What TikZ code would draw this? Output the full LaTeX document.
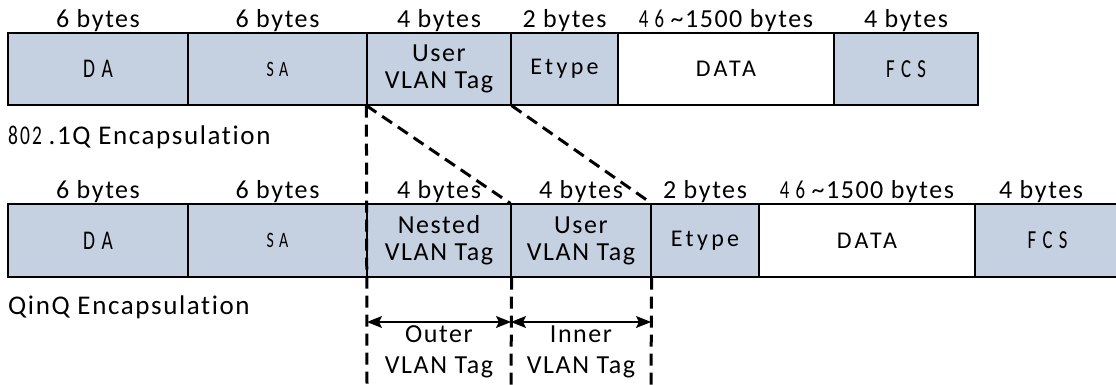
\documentclass[tikz,border=0pt]{standalone}
\usepackage{fontspec}
\setmainfont{Carlito}[LetterSpace=6,Ligatures={NoCommon}]
\newfontfamily\narrowf{Carlito}[FakeStretch=0.72,LetterSpace=8,Ligatures={NoCommon}]
\newfontfamily\widef{Carlito}[LetterSpace=14,Ligatures={NoCommon}]
\usetikzlibrary{arrows.meta}
\definecolor{fieldblue}{RGB}{197,208,225}
\begin{document}
\begin{tikzpicture}[x=1pt,y=-1pt,
  fld/.style={draw=black, line width=1.2pt, fill=fieldblue, inner sep=0pt, align=center,
    font=\fontsize{26}{27}\selectfont},
  fldw/.style={fld, fill=white},
  lbl/.style={inner sep=0pt, font=\fontsize{26}{27}\selectfont},
  enc/.style={inner sep=0pt, anchor=west, font=\fontsize{27}{28}\selectfont},
  guide/.style={line width=3pt, dash pattern=on 12pt off 7pt},
  dim/.style={line width=1.3pt, {Stealth[length=15pt,width=12pt,inset=3pt]}-{Stealth[length=15pt,width=12pt,inset=3pt]}},
  ]
\useasboundingbox (0,0) rectangle (1116,385);
% ---------- 802.1Q frame ----------
\node[fld, minimum width=180pt, minimum height=72pt] (da1) at (98,69) {\narrowf\fontsize{27}{28}\selectfont D A};
\node[fld, minimum width=179pt, minimum height=72pt] (sa1) at (277.5,69) {\narrowf\fontsize{22}{24}\selectfont S A};
\node[fld, minimum width=144pt, minimum height=72pt] (ut1) at (439,69) {User\\VLAN Tag};
\node[fld, minimum width=107pt, minimum height=72pt] (et1) at (564.5,69) {\widef\fontsize{24}{26}\selectfont Etype};
\node[fldw, minimum width=216pt, minimum height=72pt] (dt1) at (726,69) {\widef\fontsize{24}{26}\selectfont DATA};
\node[fld, minimum width=144pt, minimum height=72pt] (fc1) at (906,69) {\narrowf\fontsize{26}{28}\selectfont F C S};
\node[lbl] (b1) at (98,21) {6 bytes};
\node[lbl] (b2) at (277.5,21) {6 bytes};
\node[lbl] (b3) at (439,21) {4 bytes};
\node[lbl] (b4) at (564.5,21) {2 bytes};
\node[lbl] (b5) at (726,21) {{\narrowf 4 6 }\textasciitilde1500 bytes};
\node[lbl] (b6) at (906,21) {4 bytes};
\node[enc] (enc1) at (8,137) {{\narrowf 802 }.1Q Encapsulation};
% ---------- QinQ frame ----------
\node[fld, minimum width=180pt, minimum height=73pt] (da2) at (98,240.5) {\narrowf\fontsize{27}{28}\selectfont D A};
\node[fld, minimum width=179pt, minimum height=73pt] (sa2) at (277.5,240.5) {\narrowf\fontsize{22}{24}\selectfont S A};
\node[fld, minimum width=144pt, minimum height=73pt] (nt2) at (439,240.5) {Nested\\VLAN Tag};
\node[fld, minimum width=140pt, minimum height=73pt] (ut2) at (581,240.5) {User\\VLAN Tag};
\node[fld, minimum width=108pt, minimum height=73pt] (et2) at (705,240.5) {\widef\fontsize{24}{26}\selectfont Etype};
\node[fldw, minimum width=216pt, minimum height=73pt] (dt2) at (867,240.5) {\widef\fontsize{24}{26}\selectfont DATA};
\node[fld, minimum width=145pt, minimum height=73pt] (fc2) at (1047.5,240.5) {\narrowf\fontsize{26}{28}\selectfont F C S};
\node[lbl] (c1) at (98,192) {6 bytes};
\node[lbl] (c2) at (277.5,192) {6 bytes};
\node[lbl] (c3) at (439,192) {4 bytes};
\node[lbl] (c4) at (581,192) {4 bytes};
\node[lbl] (c5) at (705,192) {2 bytes};
\node[lbl] (c6) at (867,192) {{\narrowf 4 6 }\textasciitilde1500 bytes};
\node[lbl] (c7) at (1041,192) {4 bytes};
\node[enc] (enc2) at (8,307) {QinQ Encapsulation};
% ---------- guides ----------
\coordinate (g1) at (367,385);
\coordinate (g2) at (511,385);
\coordinate (g3) at (651,385);
\draw[guide] (ut1.south west) -- (g1);
\draw[guide] (ut1.south west) -- (ut2.north west);
\draw[guide] (ut1.south east) -- (ut2.north east);
\draw[guide] (nt2.south east) -- (g2);
\draw[guide] (ut2.south east) -- (g3);
% ---------- dimension arrows ----------
\coordinate (a1) at (367,322);
\coordinate (a2) at (511,322);
\coordinate (a3) at (651,322);
\draw[dim] (a1) -- (a2);
\draw[dim] (a2) -- (a3);
\node[lbl] (o1) at (439,334) {Outer};
\node[lbl] (o2) at (439,367) {VLAN Tag};
\node[lbl] (i1) at (581,334) {Inner};
\node[lbl] (i2) at (581,367) {VLAN Tag};
\end{tikzpicture}
\end{document}
